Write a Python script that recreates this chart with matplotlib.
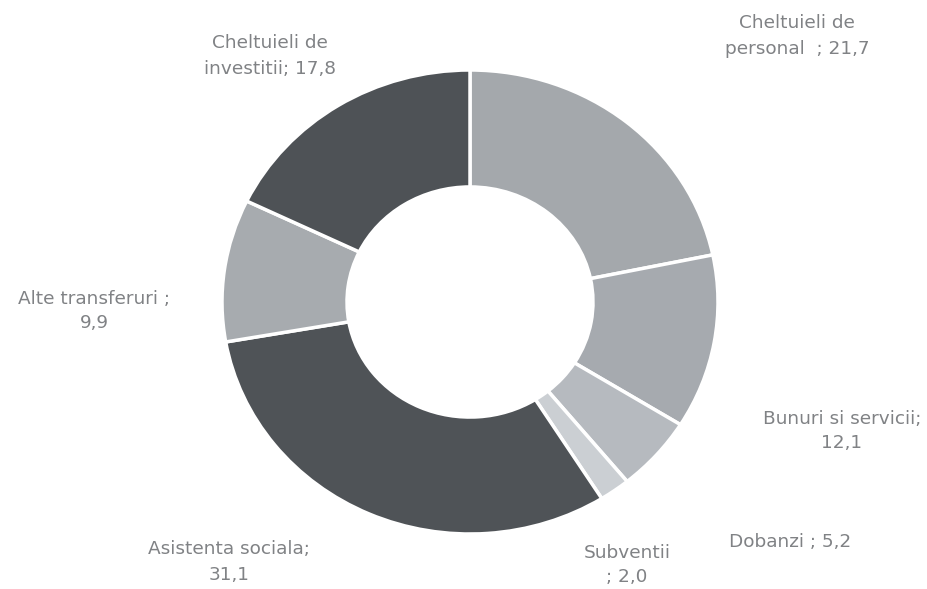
import matplotlib.pyplot as plt

# share of total spending, clockwise from the top
categories = ["Cheltuieli de personal", "Bunuri si servicii", "Dobanzi", "Subventii",
              "Asistenta sociala", "Alte transferuri", "Cheltuieli de investitii"]
values = [21.7, 12.1, 5.2, 2.0, 31.1, 9.9, 17.8]
label_fmt = ["Cheltuieli de\npersonal  ; {}", "Bunuri si servicii;\n{}", "Dobanzi ; {}",
             "Subventii\n; {}", "Asistenta sociala;\n{}", "Alte transferuri ;\n{}",
             "Cheltuieli de\ninvestitii; {}"]
colors = ["#a4a8ac", "#a6aaaf", "#b6babf", "#cbcfd3", "#4f5357", "#a7abaf", "#4e5256"]

# label anchor points in picture pixels (x from left, y from top)
label_pos = [(797, 36), (842, 431), (790, 542), (627, 565), (229, 562), (94, 311), (270, 56)]

W, H = 928, 589
sy = 232 / 248  # the donut is a little wider than tall in the picture

fig = plt.figure(figsize=(W / 100, H / 100), dpi=100)
ax = fig.add_axes([0, 0, 1, 1])

cx, cy = 470, 302
ax.pie(values, colors=colors, startangle=90, counterclock=False,
       center=(cx, (H - cy) / sy), radius=248,
       wedgeprops=dict(width=125, edgecolor="white", linewidth=2.5))

ax.set_aspect("auto")
ax.set_xlim(0, W)
ax.set_ylim(0, H / sy)
ax.axis("off")

for fmt, v, (px, py) in zip(label_fmt, values, label_pos):
    txt = fmt.format(f"{v:.1f}".replace(".", ","))
    ax.text(px, (H - py) / sy, txt, ha="center", va="center", fontsize=13.3,
            color="#808285", family="DejaVu Sans", linespacing=1.5)

fig.savefig("out.png", dpi=100, facecolor="white")
